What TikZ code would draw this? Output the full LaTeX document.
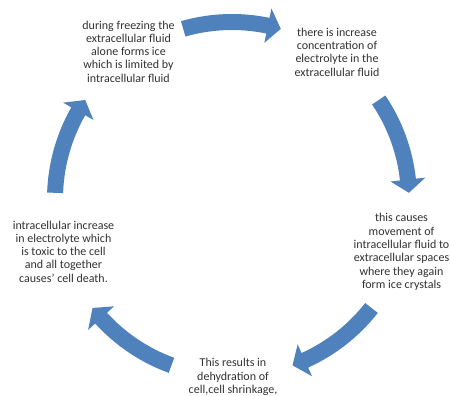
\documentclass[tikz,border=0pt]{standalone}
\usepackage{fontspec}
\setmainfont{Carlito}
\definecolor{cycleblue}{RGB}{79,129,189}
\definecolor{cycletext}{RGB}{50,50,50}
% one curved block arrow of the cycle, centred on angle #1, running clockwise
\newcommand\cyclearrow[1]{%
  \pgfmathsetmacro\tailang{#1+16}%
  \pgfmathsetmacro\tipang{#1-16}%
  \pgfmathsetmacro\baseang{#1-16+4.3}%
  \fill[cycleblue]
    (\tailang:185) arc[start angle=\tailang, end angle=\baseang, radius=185]
    -- (\baseang:194.5) -- (\tipang:177) -- (\baseang:159.5)
    -- (\baseang:169) arc[start angle=\baseang, end angle=\tailang, radius=169]
    -- cycle;
}
\begin{document}
\begin{tikzpicture}[x=1pt,y=1pt,
  steptext/.style={align=center, inner sep=0pt, text=cycletext,
    font=\fontsize{12}{13.3}\selectfont}]
\useasboundingbox (0,0) rectangle (450,396);
\clip (0,0) rectangle (450,396);
\fill[white] (0,0) rectangle (450,396);

% stages of the cycle
\node[steptext] (freeze) at (128.5,344.5)
  {during freezing the\\extracellular fluid\\alone forms ice\\which is limited by\\intracellular fluid};
\node[steptext] (conc) at (337,344)
  {there is increase\\concentration of\\electrolyte in the\\extracellular fluid};
\node[steptext] (move) at (401.5,144)
  {this causes\\movement of\\intracellular fluid to\\extracellular spaces\\where they again\\form ice crystals};
\node[steptext] (dehyd) at (233,19)
  {This results in\\dehydration of\\cell,cell shrinkage,};
\node[steptext] (death) at (63.5,144.5)
  {intracellular increase\\in electrolyte which\\is toxic to the cell\\and all together\\causes’ cell death.};

% curved arrows between the stages
\begin{scope}[shift={(232,197)}]
  \cyclearrow{90}
  \cyclearrow{18}
  \cyclearrow{-54}
  \cyclearrow{-126}
  \cyclearrow{162}
\end{scope}
\end{tikzpicture}
\end{document}
